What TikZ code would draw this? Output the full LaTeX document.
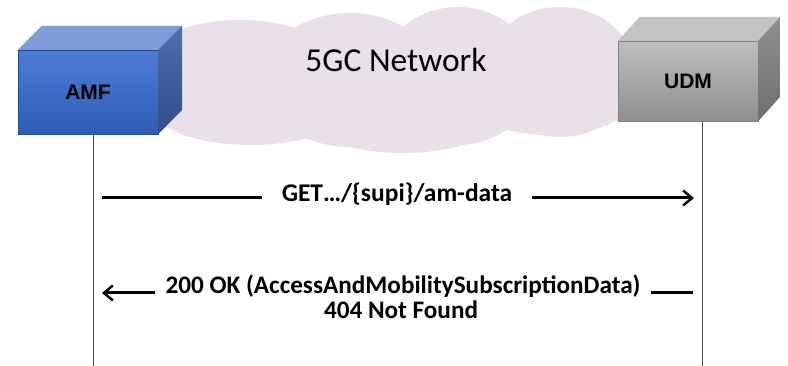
\documentclass[tikz,border=0pt]{standalone}
\usepackage{fontspec}
\setmainfont{Carlito}
\newfontfamily\arialfont{Liberation Sans}
\usetikzlibrary{arrows.meta,calc}
\definecolor{cloudc}{HTML}{E9E0EA}
\definecolor{amftopc}{HTML}{7C9BD7}
\definecolor{amfhi}{HTML}{4D7CD2}
\definecolor{amflo}{HTML}{2E5DB8}
\definecolor{amfside}{HTML}{3A5FA9}
\definecolor{udmtopc}{HTML}{C3C3C3}
\definecolor{udmhi}{HTML}{BEBEBE}
\definecolor{udmlo}{HTML}{8F8F8F}
\definecolor{udmside}{HTML}{8A8A8A}
\tikzset{
  nfbox/.style={rectangle, inner sep=0pt, font=\arialfont\bfseries\fontsize{21}{23}\selectfont},
  amfbox/.style={nfbox, minimum width=140pt, minimum height=84pt, top color=amfhi, bottom color=amflo, draw=amflo!80!black, line width=0.4pt},
  udmbox/.style={nfbox, minimum width=140pt, minimum height=80pt, top color=udmhi, bottom color=udmlo, draw=udmlo!90!black, line width=0.4pt},
  lifeline/.style={draw=black!70, line width=1pt},
  msg/.style={font=\bfseries\fontsize{25.5}{26}\selectfont, inner xsep=20pt, inner ysep=0pt},
  rmsg/.style={font=\bfseries\fontsize{25.2}{26}\selectfont, inner xsep=10pt, inner ysep=0pt},
  msgline/.style={line width=3pt, black},
  tip/.style={-{Straight Barb[length=9pt,width=15pt,line width=2.4pt]}},
  cloudtext/.style={font=\fontsize{33.5}{36}\selectfont, text=black},
  lobe/.style={fill=cloudc}
}
\begin{document}
\begin{tikzpicture}[x=1pt,y=-1pt]
\useasboundingbox (0,0) rectangle (788,366);
% cloud
\fill[lobe] (240,80) ellipse [x radius=112, y radius=60];
\fill[lobe] (350,80) ellipse [x radius=88, y radius=67];
\fill[lobe] (458,76) ellipse [x radius=78, y radius=69];
\fill[lobe] (560,72) ellipse [x radius=75, y radius=65];
\fill[lobe] (403,113) ellipse [x radius=100, y radius=40];
\fill[lobe] (250,110) ellipse [x radius=95, y radius=35];
\fill[lobe] (550,104) ellipse [x radius=78, y radius=31];
\node[cloudtext, anchor=base] (net) at (396,72) {5GC Network};
% AMF box
\node[amfbox] (amf) at (88,92) {AMF};
\fill[amftopc] (amf.north west) -- ++(24,-24) -- ($(amf.north east)+(24,-24)$) -- (amf.north east) -- cycle;
\shade[top color=amfside!90!white, bottom color=amfside!80!black] (amf.north east) -- ++(24,-24) -- ++(0,84) -- (amf.south east) -- cycle;
% UDM box
\node[udmbox] (udm) at (688,81) {UDM};
\fill[udmtopc] (udm.north west) -- ++(22,-24) -- ($(udm.north east)+(22,-24)$) -- (udm.north east) -- cycle;
\shade[top color=udmside!95!white, bottom color=udmside!80!black] (udm.north east) -- ++(22,-24) -- ++(0,80) -- (udm.south east) -- cycle;
% lifelines
\coordinate (amfl) at ($(amf.south)+(5,0)$);
\coordinate (amfe) at (93,366);
\coordinate (udml) at ($(udm.south)+(14,0)$);
\coordinate (udme) at (702,366);
\draw[lifeline] (amfl) -- (amfe);
\draw[lifeline] (udml) -- (udme);
% request
\node[msg, anchor=base] (get) at (397,202) {GET…/\{supi\}/am-data};
\coordinate (g1) at (102,198);
\coordinate (g2) at (694,198);
\draw[msgline] (g1) -- (g1 -| get.west);
\draw[msgline, tip] (g2 -| get.east) -- (g2);
% response
\node[rmsg, anchor=base] (r1) at (403,294) {200 OK (AccessAndMobilitySubscriptionData)};
\node[rmsg, anchor=base] (r2) at (401,319) {404 Not Found};
\coordinate (h1) at (693,293);
\coordinate (h2) at (102,293);
\draw[msgline] (h1) -- (h1 -| r1.east);
\draw[msgline, tip] (h2 -| r1.west) -- (h2);
\end{tikzpicture}
\end{document}
